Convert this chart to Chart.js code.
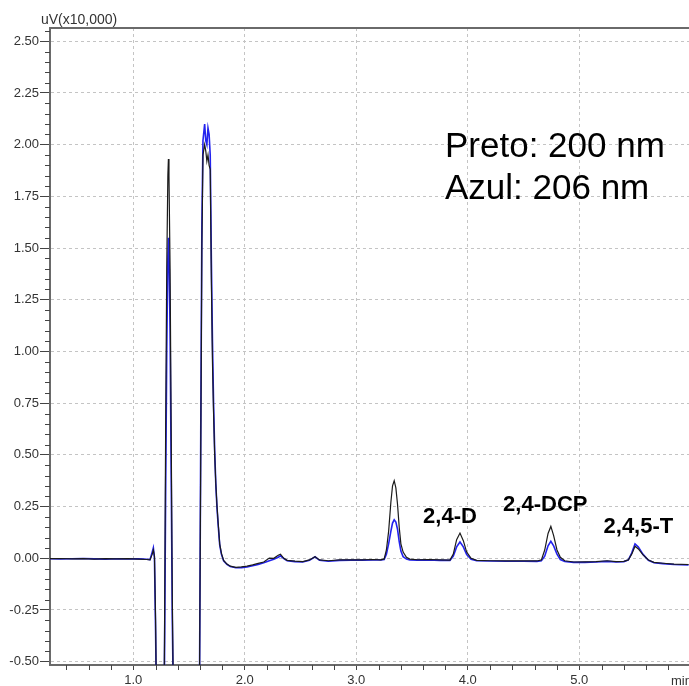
<!DOCTYPE html>
<html>
<head>
<meta charset="utf-8">
<script src="https://cdn.jsdelivr.net/npm/chart.js@4.4.1/dist/chart.umd.min.js"></script>
<style>
  html, body { margin: 0; padding: 0; background: #ffffff; }
  #wrap { width: 689px; height: 686px; }
</style>
</head>
<body>
<div id="wrap"><canvas id="chromChart" width="689" height="686"></canvas></div>
<script>
// retention time (min)
const times = [
  0.25, 0.35, 0.45, 0.55, 0.65, 0.75, 0.85, 0.95, 1.05, 1.12,
  1.15, 1.17, 1.18, 1.19, 1.20, 1.21, 1.25, 1.27, 1.28, 1.29,
  1.30, 1.31, 1.315, 1.32, 1.33, 1.34, 1.35, 1.36, 1.40, 1.50,
  1.58, 1.595, 1.605, 1.615, 1.625, 1.64, 1.65, 1.66, 1.67, 1.68,
  1.69, 1.70, 1.71, 1.72, 1.73, 1.74, 1.75, 1.76, 1.775, 1.79,
  1.81, 1.84, 1.87, 1.92, 1.97, 2.02, 2.07, 2.12, 2.17, 2.22,
  2.26, 2.30, 2.32, 2.35, 2.38, 2.45, 2.52, 2.58, 2.63, 2.67,
  2.75, 2.85, 2.95, 3.05, 3.15, 3.22, 3.25, 3.27, 3.29, 3.31,
  3.325, 3.34, 3.355, 3.37, 3.385, 3.40, 3.42, 3.45, 3.48, 3.55,
  3.65, 3.75, 3.84, 3.87, 3.90, 3.93, 3.96, 3.99, 4.03, 4.08,
  4.20, 4.35, 4.50, 4.62, 4.66, 4.69, 4.72, 4.745, 4.77, 4.80,
  4.83, 4.87, 4.95, 5.05, 5.15, 5.25, 5.33, 5.40, 5.44, 5.47,
  5.50, 5.53, 5.57, 5.62, 5.67, 5.75, 5.85, 5.98
];
// black trace, 200 nm (uV x10,000)
const preto = [
  -0.002, -0.001, -0.003, -0.002, -0.004, -0.002, -0.003, -0.002, -0.004, -0.006,
  -0.008, 0.02, 0.04, 0.01, -0.3, -0.8, -1.5, -1.0, -0.4, 0.6,
  1.4, 1.85, 1.93, 1.85, 1.4, 0.6, -0.2, -0.7, -1.5, -2.0,
  -1.2, -0.5, 0.5, 1.5, 1.95, 2.0, 1.97, 1.92, 1.95, 1.9,
  1.88, 1.35, 0.95, 0.7, 0.5, 0.36, 0.26, 0.18, 0.07, 0.025,
  -0.01, -0.028, -0.038, -0.044, -0.042, -0.038, -0.032, -0.025, -0.018, 0.001,
  0.0, 0.015, 0.02, 0.0, -0.01, -0.014, -0.016, -0.008, 0.008, -0.008,
  -0.012, -0.008, -0.007, -0.008, -0.006, -0.008, -0.003, 0.04, 0.13, 0.27,
  0.35, 0.375, 0.34, 0.26, 0.15, 0.07, 0.03, 0.005, -0.004, -0.007,
  -0.006, -0.008, -0.009, 0.02, 0.09, 0.122, 0.085, 0.03, 0.0, -0.01,
  -0.012, -0.013, -0.012, -0.013, -0.008, 0.04, 0.12, 0.154, 0.11, 0.04,
  0.005, -0.012, -0.018, -0.017, -0.016, -0.012, -0.016, -0.015, -0.008, 0.02,
  0.058, 0.045, 0.018, -0.008, -0.02, -0.024, -0.028, -0.03
];
// blue trace, 206 nm (uV x10,000)
const azul = [
  -0.002, -0.003, -0.002, -0.001, -0.003, -0.004, -0.002, -0.003, -0.003, -0.005,
  -0.007, 0.03, 0.05, 0.0, -0.35, -0.8, -1.5, -1.0, -0.5, 0.3,
  1.0, 1.45, 1.55, 1.5, 1.1, 0.4, -0.3, -0.7, -1.5, -2.0,
  -1.2, -0.5, 0.6, 1.6, 2.02, 2.1, 2.02, 2.0, 2.08, 2.05,
  1.95, 1.45, 1.05, 0.75, 0.52, 0.36, 0.25, 0.17, 0.065, 0.02,
  -0.012, -0.03, -0.04, -0.046, -0.045, -0.042, -0.036, -0.03, -0.022, -0.012,
  -0.005, 0.005, 0.012, -0.002, -0.012, -0.016, -0.018, -0.01, 0.007, -0.01,
  -0.014, -0.01, -0.009, -0.009, -0.008, -0.008, -0.006, 0.02, 0.07, 0.13,
  0.17, 0.186, 0.175, 0.14, 0.08, 0.035, 0.008, -0.004, -0.008, -0.009,
  -0.008, -0.01, -0.01, 0.01, 0.055, 0.079, 0.055, 0.018, -0.005, -0.012,
  -0.013, -0.014, -0.014, -0.015, -0.012, 0.01, 0.06, 0.082, 0.06, 0.02,
  -0.006, -0.016, -0.02, -0.02, -0.018, -0.015, -0.018, -0.016, -0.008, 0.025,
  0.07, 0.055, 0.02, -0.01, -0.022, -0.026, -0.03, -0.032
];
const xTicks = [1.0, 2.0, 3.0, 4.0, 5.0];
const yTicks = [-0.5, -0.25, 0, 0.25, 0.5, 0.75, 1.0, 1.25, 1.5, 1.75, 2.0, 2.25, 2.5];
const peakLabels = ["2,4-D", "2,4-DCP", "2,4,5-T"];
const peakLabelAt = [[3.84, 0.20], [4.695, 0.26], [5.53, 0.153]];

(function () {
  const FONT = "'Liberation Sans', Arial, sans-serif";

  const extrasPlugin = {
    id: "chromExtras",
    afterDraw(chart) {
      const { ctx, chartArea, scales } = chart;
      const xs = scales.x, ys = scales.y;
      ctx.save();

      // top frame line
      ctx.strokeStyle = "#6a6a6a";
      ctx.lineWidth = 2;
      ctx.beginPath();
      ctx.moveTo(chartArea.left, chartArea.top);
      ctx.lineTo(chartArea.right, chartArea.top);
      ctx.stroke();

      // minor ticks
      ctx.lineWidth = 1;
      ctx.strokeStyle = "#444";
      ctx.beginPath();
      for (let k = -10; k <= 51; k++) {
        if (k % 5 === 0) continue;
        const y = Math.round(ys.getPixelForValue(k * 0.05)) + 0.5;
        if (y < chartArea.top || y > chartArea.bottom) continue;
        ctx.moveTo(chartArea.left - 5, y);
        ctx.lineTo(chartArea.left, y);
      }
      for (let k = 2; k <= 30; k++) {
        if (k % 5 === 0) continue;
        const x = Math.round(xs.getPixelForValue(k * 0.2)) + 0.5;
        if (x < chartArea.left || x > chartArea.right) continue;
        ctx.moveTo(x, chartArea.bottom);
        ctx.lineTo(x, chartArea.bottom + 5);
      }
      ctx.stroke();

      // axis titles
      ctx.fillStyle = "#333";
      ctx.font = "14px " + FONT;
      ctx.textAlign = "left";
      ctx.textBaseline = "alphabetic";
      ctx.fillText("uV(x10,000)", 41, 24);
      ctx.font = "13px " + FONT;
      ctx.textBaseline = "middle";
      ctx.fillText("min", 671, 681);

      // wavelength note
      ctx.fillStyle = "#000";
      ctx.font = "35px " + FONT;
      ctx.textBaseline = "alphabetic";
      ctx.fillText("Preto: 200 nm", 445, 157);
      ctx.fillText("Azul: 206 nm", 445, 199);

      // peak names
      ctx.font = "bold 22px " + FONT;
      ctx.textAlign = "center";
      ctx.textBaseline = "middle";
      peakLabels.forEach((txt, i) => {
        const [t, v] = peakLabelAt[i];
        ctx.fillText(txt, xs.getPixelForValue(t), ys.getPixelForValue(v));
      });
      ctx.restore();
    }
  };

  function init() {
    const ctx = document.getElementById("chromChart");
    new Chart(ctx, {
      type: "scatter",
      data: {
        datasets: [
          {
            label: "Preto 200 nm",
            data: times.map((t, i) => ({ x: t, y: preto[i] })),
            showLine: true,
            borderColor: "#1a1a1a",
            borderWidth: 1.2,
            pointRadius: 0,
            tension: 0
          },
          {
            label: "Azul 206 nm",
            data: times.map((t, i) => ({ x: t, y: azul[i] })),
            showLine: true,
            borderColor: "#2222ee",
            borderWidth: 1.6,
            pointRadius: 0,
            tension: 0
          }
        ]
      },
      options: {
        responsive: false,
        animation: false,
        layout: { padding: { top: 28, right: 0, left: 0, bottom: 0 } },
        plugins: {
          legend: { display: false },
          tooltip: { enabled: false }
        },
        scales: {
          x: {
            type: "linear",
            min: 0.253,
            max: 5.984,
            afterBuildTicks: (s) => { s.ticks = xTicks.map(v => ({ value: v })); },
            afterFit: (s) => { s.height = 21; },
            ticks: {
              color: "#333",
              font: { family: FONT, size: 13 },
              padding: 3,
              maxRotation: 0,
              callback: (v) => Number(v).toFixed(1)
            },
            grid: {
              color: "#c4c4c4",
              lineWidth: 1,
              tickLength: 5,
              tickColor: "#444",
              tickBorderDash: []
            },
            border: { color: "#6a6a6a", width: 2, dash: [3, 3] }
          },
          y: {
            min: -0.516,
            max: 2.564,
            afterBuildTicks: (s) => { s.ticks = yTicks.map(v => ({ value: v })); },
            afterFit: (s) => { s.width = 50; },
            ticks: {
              color: "#333",
              font: { family: FONT, size: 13 },
              padding: 1,
              callback: (v) => Number(v).toFixed(2)
            },
            grid: {
              color: "#c4c4c4",
              lineWidth: 1,
              tickLength: 10,
              tickColor: "#444",
              tickBorderDash: []
            },
            border: { color: "#6a6a6a", width: 2, dash: [3, 3] }
          }
        }
      },
      plugins: [extrasPlugin]
    });
  }

  window.addEventListener("DOMContentLoaded", init);
})();
</script>
</body>
</html>
